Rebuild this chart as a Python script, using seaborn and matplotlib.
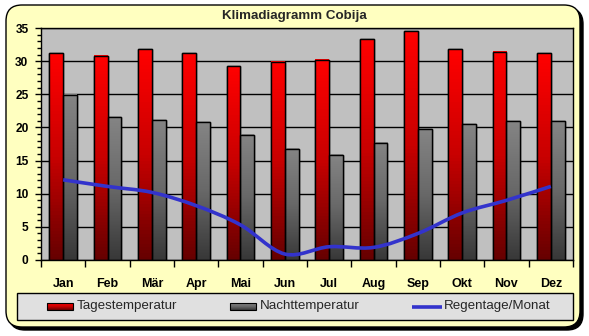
import numpy as np
import pandas as pd
import matplotlib
matplotlib.use("Agg")
import matplotlib.pyplot as plt
import seaborn as sns
from matplotlib.patches import FancyBboxPatch, Rectangle, PathPatch
from matplotlib.path import Path
from matplotlib.colors import LinearSegmentedColormap
from matplotlib.ticker import MultipleLocator, FixedLocator

# ---- data ----
monate = ["Jan", "Feb", "Mär", "Apr", "Mai", "Jun", "Jul", "Aug", "Sep", "Okt", "Nov", "Dez"]
tagestemperatur = [31.2, 30.8, 31.8, 31.2, 29.2, 29.9, 30.2, 33.3, 34.5, 31.8, 31.4, 31.2]
nachttemperatur = [24.9, 21.5, 21.1, 20.8, 18.9, 16.8, 15.9, 17.7, 19.7, 20.5, 20.9, 20.9]
regentage = [12.1, 11.1, 10.2, 8.2, 5.3, 0.9, 2.0, 1.9, 4.0, 7.1, 9.0, 11.1]
reihen = ["Tagestemperatur", "Nachttemperatur", "Regentage/Monat"]
titel = "Klimadiagramm Cobija"

sns.set_style("white")
plt.rcParams["font.family"] = ["Liberation Sans", "DejaVu Sans"]

W, H = 589, 336
fig = plt.figure(figsize=(W / 100, H / 100), dpi=100)
fig.patch.set_facecolor("white")

# decoration axes in pixel coordinates
deco = fig.add_axes([0, 0, 1, 1], zorder=0)
deco.set_xlim(0, W)
deco.set_ylim(H, 0)
deco.axis("off")

shadow = FancyBboxPatch((9, 8), 574, 322, boxstyle="round,pad=0,rounding_size=16",
                        facecolor="black", edgecolor="black", lw=1)
deco.add_patch(shadow)
box = FancyBboxPatch((6, 5), 574, 322, boxstyle="round,pad=0,rounding_size=16",
                     facecolor="#FFFFC0", edgecolor="black", lw=1)
deco.add_patch(box)
deco.text(294.5, 16, titel, ha="center", va="center", fontsize=9.6, fontweight="bold")

red_cmap = LinearSegmentedColormap.from_list("r", ["#660000", "#C80000", "#FF0000"])
gray_cmap = LinearSegmentedColormap.from_list("g", ["#383838", "#686868", "#848484"])

# legend box
deco.add_patch(Rectangle((17, 293), 556, 27, facecolor="#E0E0E0", edgecolor="black", lw=1))
grad = np.linspace(0, 1, 64).reshape(-1, 1)
for (x0, cmap, label) in [(47, red_cmap, reihen[0]), (230, gray_cmap, reihen[1])]:
    deco.imshow(grad, cmap=cmap, extent=[x0, x0 + 26, 310, 303], origin="lower",
                aspect="auto", zorder=3)
    deco.add_patch(Rectangle((x0, 303), 26, 7, facecolor="none", edgecolor="black", lw=0.8, zorder=4))
    deco.text(x0 + 30, 306.5, label, ha="left", va="center", fontsize=9.6)
deco.plot([412, 442], [306.5, 306.5], color="#3333CC", lw=2.6, solid_capstyle="butt")
deco.text(444, 306.5, reihen[2], ha="left", va="center", fontsize=9.6)
deco.set_xlim(0, W)
deco.set_ylim(H, 0)

# main axes
L, R, T, B = 41, 573, 28, 260
ax = fig.add_axes([L / W, 1 - B / H, (R - L) / W, (B - T) / H], zorder=1)
ax.set_facecolor("#C0C0C0")

df = pd.DataFrame({
    "Monat": monate * 2,
    "Wert": tagestemperatur + nachttemperatur,
    "Reihe": [reihen[0]] * 12 + [reihen[1]] * 12,
})
sns.barplot(data=df, x="Monat", y="Wert", hue="Reihe", order=monate,
            hue_order=reihen[:2], palette=["#FF0000", "#808080"], width=0.63,
            edgecolor="black", linewidth=1, legend=False, ax=ax, zorder=2)

for i, p in enumerate(list(ax.patches)):
    x0, y0 = p.get_x(), p.get_y()
    w, h = p.get_width(), p.get_height()
    if h <= 0:
        continue
    cmap = red_cmap if i < 12 else gray_cmap
    ax.imshow(grad, cmap=cmap, extent=[x0, x0 + w, y0, y0 + h], origin="lower",
              aspect="auto", zorder=2.5)
    ax.add_patch(Rectangle((x0, y0), w, h, facecolor="none", edgecolor="black", lw=1, zorder=2.6))

# smoothed rain line (Catmull-Rom -> Bezier), drawn in data coordinates
xs = np.arange(len(regentage), dtype=float)
ys = np.array(regentage, dtype=float)
pts = np.column_stack([xs, ys])
ext = np.vstack([pts[0], pts, pts[-1]])
verts = [tuple(pts[0])]
codes = [Path.MOVETO]
for k in range(len(pts) - 1):
    p0, p1, p2, p3 = ext[k], ext[k + 1], ext[k + 2], ext[k + 3]
    c1 = p1 + (p2 - p0) / 6.0
    c2 = p2 - (p3 - p1) / 6.0
    verts += [tuple(c1), tuple(c2), tuple(p2)]
    codes += [Path.CURVE4] * 3
ax.add_patch(PathPatch(Path(verts, codes), facecolor="none", edgecolor="#3333CC",
                       lw=2.6, zorder=4, capstyle="butt"))

ax.set_xlim(-0.5, 11.5)
ax.set_ylim(0, 35)
ax.set_xlabel("")
ax.set_ylabel("")
ax.yaxis.set_major_locator(MultipleLocator(5))
ax.yaxis.set_minor_locator(MultipleLocator(1))
ax.grid(axis="y", which="major", color="black", lw=1, zorder=1)
ax.set_axisbelow(True)
ax.xaxis.set_minor_locator(FixedLocator(np.arange(-0.5, 12, 1.0)))
ax.tick_params(axis="x", which="major", length=0, pad=13, labelsize=9, colors="black")
ax.tick_params(axis="x", which="minor", length=5, width=1, direction="out", color="black", bottom=True)
ax.tick_params(axis="y", which="major", length=4, width=1, direction="out", pad=5,
               labelsize=8.6, colors="black", left=True)
ax.tick_params(axis="y", which="minor", length=3, width=1, direction="out", left=True, color="black")
for lab in ax.get_xticklabels() + ax.get_yticklabels():
    lab.set_fontweight("bold")
for s in ax.spines.values():
    s.set_visible(True)
    s.set_color("black")
    s.set_linewidth(1)

fig.savefig("out.png", dpi=100)
